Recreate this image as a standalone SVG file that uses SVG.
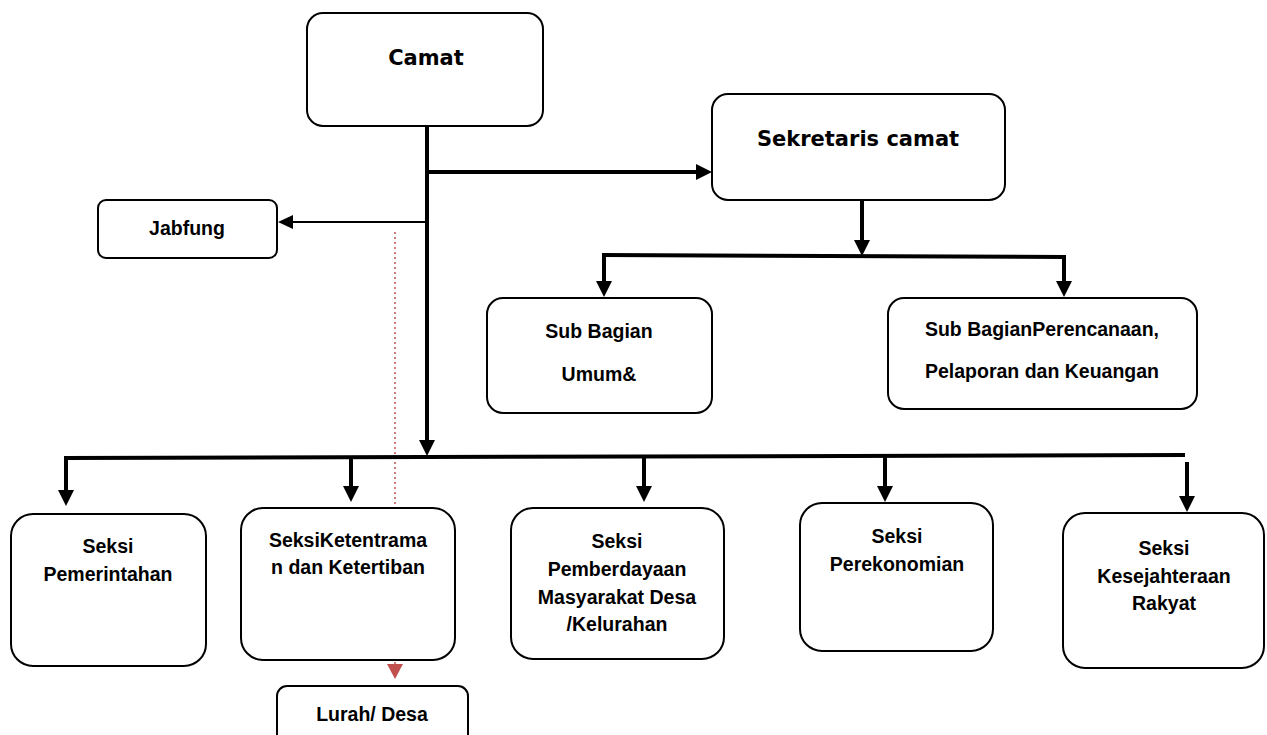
<svg xmlns="http://www.w3.org/2000/svg" width="1267" height="735" viewBox="0 0 1267 735">
<style>
.box{fill:#fff;stroke:#000;stroke-width:2}
.t{font-family:"Liberation Sans",Arial,sans-serif;font-weight:bold;font-size:19.5px;fill:#000;text-anchor:middle}
.tv{font-family:"DejaVu Sans",Verdana,sans-serif;font-weight:bold;font-size:21px;fill:#000;text-anchor:middle}
.thick{stroke:#000;stroke-width:4;fill:none}
.thin{stroke:#000;stroke-width:2;fill:none}
.red{stroke:#c0504d;stroke-width:1.5;stroke-dasharray:2 3;fill:none}
</style>
<defs>
<marker id="ah" markerUnits="userSpaceOnUse" markerWidth="16" markerHeight="16" refX="2" refY="8" orient="auto" viewBox="0 0 16 16">
<path d="M0,0 L16,8 L0,16 z" fill="#000"/>
</marker>
<marker id="ahs" markerUnits="userSpaceOnUse" markerWidth="15" markerHeight="14" refX="1" refY="7" orient="auto" viewBox="0 0 15 14">
<path d="M0,0 L15,7 L0,14 z" fill="#000"/>
</marker>
<marker id="ahr" markerUnits="userSpaceOnUse" markerWidth="15" markerHeight="16" refX="1" refY="8" orient="auto" viewBox="0 0 15 16">
<path d="M0,0 L15,8 L0,16 z" fill="#c0504d"/>
</marker>
</defs>

<g id="connectors">
<line class="thick" x1="427" y1="126" x2="427" y2="442" marker-end="url(#ah)"/>
<line class="thick" x1="425" y1="172" x2="698" y2="172" marker-end="url(#ah)"/>
<line class="thin" x1="427" y1="222" x2="292" y2="222" marker-end="url(#ahs)"/>
<line class="red" x1="395" y1="232" x2="395" y2="665" marker-end="url(#ahr)"/>
<line class="thick" x1="862" y1="200" x2="862" y2="242" marker-end="url(#ah)"/>
<line class="thick" x1="602" y1="255" x2="1066" y2="257"/>
<line class="thick" x1="604" y1="253" x2="604" y2="283" marker-end="url(#ah)"/>
<line class="thick" x1="1064" y1="255" x2="1064" y2="283" marker-end="url(#ah)"/>
<line class="thick" x1="64" y1="458" x2="1185" y2="455"/>
<line class="thick" x1="66" y1="456" x2="66" y2="492" marker-end="url(#ah)"/>
<line class="thick" x1="351" y1="457" x2="351" y2="488" marker-end="url(#ah)"/>
<line class="thick" x1="644" y1="457" x2="644" y2="488" marker-end="url(#ah)"/>
<line class="thick" x1="885" y1="456" x2="885" y2="488" marker-end="url(#ah)"/>
<line class="thick" x1="1187" y1="462" x2="1187" y2="498" marker-end="url(#ah)"/>
</g>

<g id="camat">
<rect class="box" x="307" y="13" width="236" height="113" rx="16"/>
<text class="tv" x="426" y="65">Camat</text>
</g>
<g id="sekretaris">
<rect class="box" x="712" y="94" width="293" height="106" rx="16"/>
<text class="tv" x="858" y="146">Sekretaris camat</text>
</g>
<g id="jabfung">
<rect class="box" x="98" y="200" width="179" height="58" rx="8"/>
<text class="t" x="187" y="235">Jabfung</text>
</g>
<g id="subbagian-umum">
<rect class="box" x="487" y="298" width="225" height="115" rx="16"/>
<text class="t" x="599" y="338">Sub Bagian</text>
<text class="t" x="599" y="381">Umum&amp;</text>
</g>
<g id="subbagian-perencanaan">
<rect class="box" x="888" y="298" width="309" height="111" rx="16"/>
<text class="t" x="1042" y="336">Sub BagianPerencanaan,</text>
<text class="t" x="1042" y="378">Pelaporan dan Keuangan</text>
</g>
<g id="seksi-pemerintahan">
<rect class="box" x="11" y="514" width="195" height="152" rx="22"/>
<text class="t" x="108" y="553">Seksi</text>
<text class="t" x="108" y="581">Pemerintahan</text>
</g>
<g id="seksi-ketentraman">
<rect class="box" x="241" y="508" width="214" height="152" rx="22"/>
<text class="t" x="348" y="547">SeksiKetentrama</text>
<text class="t" x="348" y="574">n dan Ketertiban</text>
</g>
<g id="lurah-desa">
<rect class="box" x="277" y="686" width="191" height="60" rx="10"/>
<text class="t" x="372" y="721">Lurah/ Desa</text>
</g>
<g id="seksi-pemberdayaan">
<rect class="box" x="511" y="508" width="213" height="151" rx="22"/>
<text class="t" x="617" y="548">Seksi</text>
<text class="t" x="617" y="576">Pemberdayaan</text>
<text class="t" x="617" y="604">Masyarakat Desa</text>
<text class="t" x="617" y="631">/Kelurahan</text>
</g>
<g id="seksi-perekonomian">
<rect class="box" x="800" y="503" width="193" height="148" rx="22"/>
<text class="t" x="897" y="543">Seksi</text>
<text class="t" x="897" y="571">Perekonomian</text>
</g>
<g id="seksi-kesra">
<rect class="box" x="1063" y="513" width="201" height="155" rx="22"/>
<text class="t" x="1164" y="555">Seksi</text>
<text class="t" x="1164" y="583">Kesejahteraan</text>
<text class="t" x="1164" y="610">Rakyat</text>
</g>
</svg>
